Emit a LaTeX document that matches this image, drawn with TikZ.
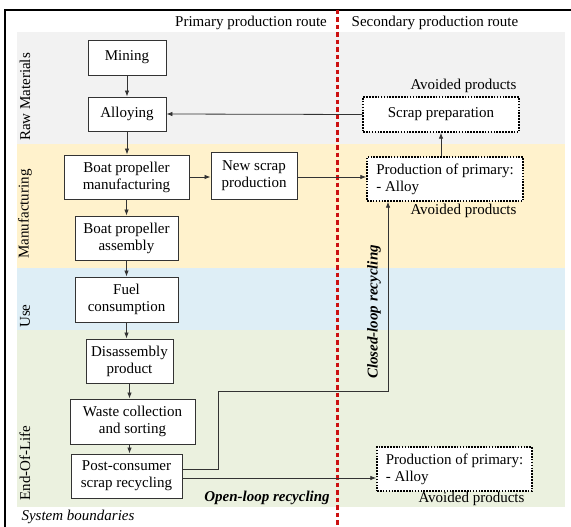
\documentclass[tikz,border=0pt]{standalone}
\usepackage{fontspec}
\setmainfont{Liberation Serif}
\usetikzlibrary{arrows.meta,calc}
\definecolor{bandgray}{HTML}{F2F2F2}
\definecolor{bandyellow}{HTML}{FFF2CC}
\definecolor{bandblue}{HTML}{DEEEF6}
\definecolor{bandgreen}{HTML}{EBF1DF}
\definecolor{routered}{HTML}{CC1111}
\definecolor{linegray}{HTML}{333333}
\begin{document}
\begin{tikzpicture}[x=1pt,y=-1pt,
  every node/.style={font=\fontsize{15}{17}\selectfont},
  box/.style={draw=linegray, line width=0.9pt, fill=white, align=center, inner sep=0pt},
  dbox/.style={draw=black, line width=1.4pt, dash pattern=on 1.6pt off 1.3pt, fill=white, align=left, inner sep=0pt},
  arr/.style={draw=linegray, line width=0.8pt, -{Latex[length=6pt,width=4.5pt]}},
  lane/.style={rotate=90, anchor=center}
]
\useasboundingbox (0,0) rectangle (571,527);
% bands
\fill[bandgray]   (17,32)  rectangle (565,144);
\fill[bandyellow] (17,144) rectangle (565,268);
\fill[bandblue]   (17,268) rectangle (565,330);
\fill[bandgreen]  (17,330) rectangle (565,507);
% frame
\draw[line width=2.5pt] (575,10) -- (5,10) -- (5,530);
% route divider
\draw[routered, line width=3pt, dash pattern=on 4.5pt off 3pt] (337,10) -- (337,527);
% headings
\node (hp) at (251,23) {Primary production route};
\node (hs) at (435,23) {Secondary production route};
\node[lane] (lraw) at (25,97) {Raw Materials};
\node[lane] (lman) at (25,214) {Manufacturing};
\node[lane] (luse) at (25,316) {Use};
\node[lane] (leol) at (25,463) {End-Of-Life};
\node[anchor=west, font=\fontsize{15}{17}\selectfont\itshape] (sb) at (18,517) {System boundaries};
% primary nodes
\node[box, minimum width=78pt, minimum height=35pt] (mining) at (127,57.5) {Mining};
\node[box, minimum width=78pt, minimum height=34pt] (alloy) at (127,114) {Alloying};
\node[box, minimum width=125pt, minimum height=44pt] (bpm) at (126.5,177) {Boat propeller\\manufacturing};
\node[box, minimum width=86pt, minimum height=47pt] (nsp) at (254,176) {New scrap\\production};
\node[box, minimum width=103pt, minimum height=44pt] (bpa) at (126.5,238) {Boat propeller\\assembly};
\node[box, minimum width=103pt, minimum height=45pt] (fuel) at (126.5,299.5) {Fuel\\consumption};
\node[box, minimum width=87pt, minimum height=44pt] (dis) at (129.5,361) {Disassembly\\product};
\node[box, minimum width=125pt, minimum height=45pt] (waste) at (132.5,421.5) {Waste collection\\and sorting};
\node[box, minimum width=111pt, minimum height=44pt] (post) at (126.5,476) {Post-consumer\\scrap recycling};
% secondary nodes
\node[dbox, align=center, minimum width=156pt, minimum height=35pt] (scrap) at (441,114.5) {Scrap preparation};
\node[dbox, minimum width=156pt, minimum height=44pt] (prod1) at (445,179) {Production of primary:\\- Alloy};
\node[dbox, minimum width=155pt, minimum height=44pt] (prod2) at (454.5,469) {Production of primary:\\- Alloy};
\node[anchor=east] (av1) at (520,86) {Avoided products};
\node[anchor=east] (av2) at (520,211) {Avoided products};
\node[anchor=east] (av3) at (528,499) {Avoided products};
% helper coordinates
\coordinate (ya) at (0,469);
\coordinate (yb) at (0,478);
\coordinate (k1) at (218,391);
\coordinate (k2) at (388,391);
% connectors
\draw[arr] (mining) -- (alloy);
\draw[arr] (alloy.south) -- (alloy.south |- bpm.north);
\draw[arr] (scrap.west) -- (alloy.east);
\draw[arr] (bpm.east) -- (bpm.east -| nsp.west);
\draw[arr] (nsp.east |- bpm.east) -- (prod1.west |- bpm.east);
\draw[arr] (scrap.south |- prod1.north) -- (scrap.south);
\draw[arr] (bpm.south -| bpa.north) -- (bpa.north);
\draw[arr] (bpa) -- (fuel);
\draw[arr] (fuel.south) -- (fuel.south |- dis.north);
\draw[arr] (dis.south) -- (dis.south |- waste.north);
\draw[arr] (waste.south -| dis.south) -- (dis.south |- post.north);
\draw[arr] (post.east |- ya) -| (k1) -- (k2) -- (k2 |- prod1.south);
\draw[arr] (post.east |- yb) -- (prod2.west |- yb);
\node[rotate=90, font=\fontsize{15}{17}\selectfont\bfseries\itshape] (cl) at (374,312) {Closed-loop recycling};
\node[font=\fontsize{15}{17}\selectfont\bfseries\itshape] (ol) at (267,498) {Open-loop recycling};
\end{tikzpicture}
\end{document}
